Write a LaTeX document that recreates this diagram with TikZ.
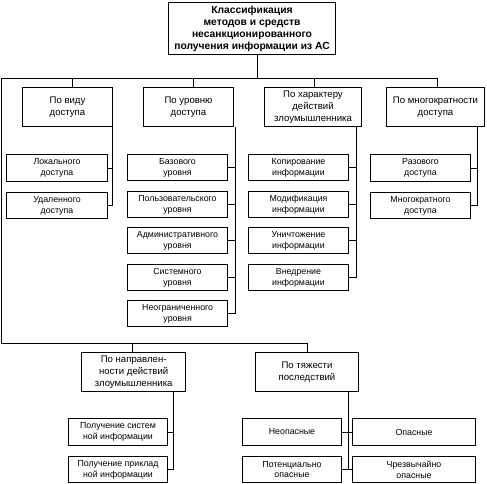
\documentclass[tikz,border=0pt]{standalone}
\usepackage{fontspec}
\setmainfont{Liberation Sans}
\begin{document}
\begin{tikzpicture}[x=1pt,y=-1pt,
  bx/.style={draw, line width=1pt, anchor=north west, inner sep=0pt, align=center,
    font=\fontsize{8.8}{10.8}\selectfont, minimum width=100pt, minimum height=26pt},
  hd/.style={bx, font=\fontsize{9.6}{12}\selectfont, minimum width=90pt, minimum height=39pt},
  ttl/.style={bx, font=\bfseries\fontsize{10.3}{12}\selectfont, minimum width=167pt, minimum height=52pt},
  ln/.style={line width=0.8pt},
  bold/.style={line width=1.3pt}]
\useasboundingbox (0,0) rectangle (487,483);
% title
\node[ttl] (top) at (168,2) {Классификация\\методов и средств\\несанкционированного\\получения информации из АС};
% level 1
\node[hd] (b1) at (22,87) {По виду\\доступа};
\node[hd] (b2) at (143,87) {По уровню\\доступа};
\node[hd, minimum width=97pt] (b3) at (264,87) {По характеру\\действий\\злоумышленника};
\node[hd, minimum width=98pt] (b4) at (386,87) {По многократности\\доступа};
\node[hd, minimum width=104pt, bold] (n1) at (81,352) {По направлен-\\ности действий\\злоумышленника};
\node[hd, minimum width=103pt] (t2) at (255,352) {По тяжести\\последствий};
% children of b1
\node[bx, minimum width=101pt, minimum height=27pt] (c11) at (6,154) {Локального\\доступа};
\node[bx, minimum width=101pt] (c12) at (6,192) {Удаленного\\доступа};
% children of b2
\node[bx] (c21) at (127,154) {Базового\\уровня};
\node[bx] (c22) at (127,191) {Пользовательского\\уровня};
\node[bx] (c23) at (127,227) {Административного\\уровня};
\node[bx] (c24) at (127,264) {Системного\\уровня};
\node[bx, bold] (c25) at (127,300) {Неограниченного\\уровня};
% children of b3
\node[bx] (c31) at (248,154) {Копирование\\информации};
\node[bx] (c32) at (248,191) {Модификация\\информации};
\node[bx] (c33) at (248,227) {Уничтожение\\информации};
\node[bx] (c34) at (248,264) {Внедрение\\информации};
% children of b4
\node[bx, minimum height=27pt] (c41) at (370,154) {Разового\\доступа};
\node[bx] (c42) at (370,192) {Многократного\\доступа};
% children of n1
\node[bx, minimum width=99pt, minimum height=27pt] (n11) at (68,418) {Получение систем\\ной информации};
\node[bx, minimum width=99pt] (n12) at (68,456) {Получение приклад\\ной информации};
% children of t2
\node[bx, minimum width=99pt, minimum height=27pt] (t21) at (242,418) {Неопасные};
\node[bx, minimum width=123pt, minimum height=27pt] (t22) at (352,418) {Опасные};
\node[bx, minimum width=99pt] (t23) at (242,456) {Потенциально\\опасные};
\node[bx, minimum width=123pt] (t24) at (352,456) {Чрезвычайно\\опасные};
% bus lines
\coordinate (tl) at (1,78);
\coordinate (bl) at (1,343);
\draw[ln] ([xshift=5pt]top.south) -- ([xshift=5pt]top.south |- tl);
\draw[ln] ([xshift=2pt]b4.north) |- (tl) -- (bl) -| (t2.north);
\draw[ln] ([xshift=5pt]b1.north) -- ([xshift=5pt]b1.north |- tl);
\draw[ln] ([xshift=5pt]b2.north) -- ([xshift=5pt]b2.north |- tl);
\draw[ln] ([xshift=1.5pt]b3.north) -- ([xshift=1.5pt]b3.north |- tl);
\draw[bold] ([xshift=-1pt]n1.north) -- ([xshift=-1pt]n1.north |- bl);
% child connectors
\coordinate (k1) at ([xshift=-1pt]b1.south east);
\draw[ln] (k1) |- (c12.east);
\draw[ln] (c11.east) -- (c11.east -| k1);
\coordinate (k2) at ([xshift=1pt]b2.south east);
\draw[ln] (k2) |- (c25.east);
\foreach \c in {c21,c22,c23,c24} \draw[ln] (\c.east) -- (\c.east -| k2);
\coordinate (k3) at ([xshift=-6pt]b3.south east);
\draw[ln] (k3) |- (c34.east);
\foreach \c in {c31,c32,c33} \draw[ln] (\c.east) -- (\c.east -| k3);
\coordinate (k4) at ([xshift=-8pt]b4.south east);
\draw[ln] (k4) |- (c42.east);
\draw[ln] (c41.east) -- (c41.east -| k4);
\coordinate (k5) at ([xshift=-13pt]n1.south east);
\draw[ln] (k5) |- (n12.east);
\draw[ln] (n11.east) -- (n11.east -| k5);
\coordinate (k6) at ([xshift=-11pt]t2.south east);
\draw[ln] (k6) -- (k6 |- t23.east);
\draw[ln] (t21.east) -- (t22.west);
\draw[ln] (t23.east) -- (t24.west);
\end{tikzpicture}
\end{document}
